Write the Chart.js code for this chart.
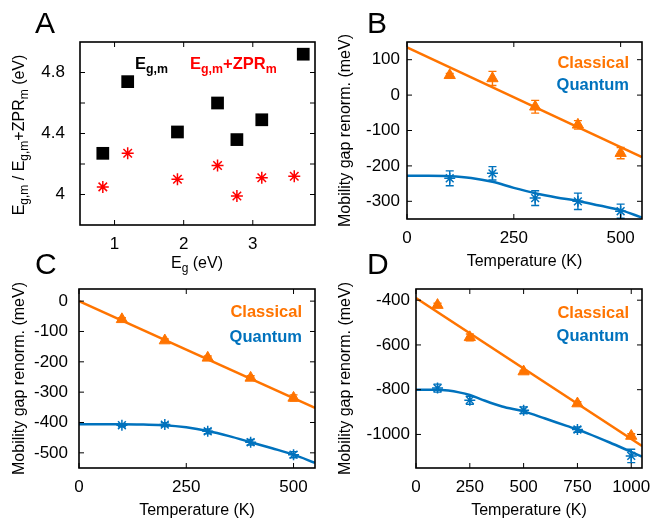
<!DOCTYPE html>
<html>
<head>
<meta charset="utf-8">
<script src="https://cdn.jsdelivr.net/npm/chart.js@4/dist/chart.umd.min.js"></script>
<style>
  body { margin: 0; background: #fff; font-family: "Liberation Sans", Arial, sans-serif; color: #000; }
  #wrap { position: relative; width: 653px; height: 523px; overflow: hidden; }
  canvas { position: absolute; }
  .lbl { position: absolute; white-space: nowrap; line-height: 1; }
  .lbl sub { line-height: 0; font-size: 0.75em; vertical-align: -0.3em; }
  .panel { font-size: 30px; }
  .key { font-size: 16.5px; font-weight: bold; transform: translate(-100%, -50%); }
  .ann { font-size: 16.5px; font-weight: bold; }
  .ttl { font-size: 16px; }
</style>
</head>
<body>
<div id="wrap">
  <canvas id="chartA" width="326" height="275" style="left:0;top:0"></canvas>
  <canvas id="chartB" width="327" height="275" style="left:326px;top:0"></canvas>
  <canvas id="chartC" width="326" height="248" style="left:0;top:275px"></canvas>
  <canvas id="chartD" width="327" height="248" style="left:326px;top:275px"></canvas>

  <div class="lbl panel" style="left:35px;top:8px">A</div>
  <div class="lbl panel" style="left:367px;top:8px">B</div>
  <div class="lbl panel" style="left:35px;top:249px">C</div>
  <div class="lbl panel" style="left:367px;top:249px">D</div>

  <div class="lbl ann" style="left:135px;top:55px">E<sub>g,m</sub></div>
  <div class="lbl ann" style="left:190px;top:55px;color:#ff0000">E<sub>g,m</sub>+ZPR<sub>m</sub></div>
  <div class="lbl ttl" style="left:19px;top:135px;transform:translate(-50%,-50%) rotate(-90deg)">E<sub>g,m</sub> / E<sub>g,m</sub>+ZPR<sub>m</sub> (eV)</div>
  <div class="lbl ttl" style="left:197px;top:263px;transform:translate(-50%,-50%)">E<sub>g</sub> (eV)</div>

  <div class="lbl key" style="left:629px;top:62px;color:#ff7400">Classical</div>
  <div class="lbl key" style="left:629px;top:84px;color:#0072bd">Quantum</div>
  <div class="lbl key" style="left:302px;top:311px;color:#ff7400">Classical</div>
  <div class="lbl key" style="left:302px;top:336px;color:#0072bd">Quantum</div>
  <div class="lbl key" style="left:629px;top:312px;color:#ff7400">Classical</div>
  <div class="lbl key" style="left:629px;top:335px;color:#0072bd">Quantum</div>
</div>
<script>
// panel A: mobility gap vs band gap (eV)
const aGap = [0.83, 1.19, 1.91, 2.49, 2.77, 3.13, 3.73];
const aMob = [4.27, 4.74, 4.41, 4.6, 4.36, 4.49, 4.92];
const aGapZpr = [0.83, 1.19, 1.91, 2.49, 2.77, 3.13, 3.6];
const aMobZpr = [4.05, 4.27, 4.1, 4.19, 3.99, 4.11, 4.12];
const aXTicks = [1, 2, 3];
const aXLabels = ["1", "2", "3"];
const aYTicks = [4, 4.2, 4.4, 4.6, 4.8];
const aYLabels = ["4", "", "4.4", "", "4.8"];

// panel B (meV vs K)
const bTemp = [100, 200, 300, 400, 500];
const bClassical = [56, 47, -33, -84, -164];
const bClassicalErr = [5, 20, 18, 12, 16];
const bQuantum = [-235, -221, -291, -300, -328];
const bQuantumErr = [21, 19, 21, 23, 20];
const bFitTemp = [0, 550];
const bClassicalFit = [135, -175];
const bCurveTemp = [0, 50, 100, 150, 200, 250, 300, 350, 400, 450, 500, 550];
const bQuantumFit = [-228, -228, -229, -234, -245, -262, -277, -289, -299, -312, -325, -346];
const bXTicks = [0, 250, 500];
const bYTicks = [-300, -200, -100, 0, 100];

// panel C
const cTemp = [100, 200, 300, 400, 500];
const cClassical = [-60, -130, -187, -253, -319];
const cClassicalErr = [5, 5, 6, 7, 10];
const cQuantum = [-409, -407, -429, -465, -506];
const cQuantumErr = [5, 6, 8, 9, 10];
const cFitTemp = [0, 550];
const cClassicalFit = [0, -352];
const cCurveTemp = [0, 50, 100, 150, 200, 250, 300, 350, 400, 450, 500, 550];
const cQuantumFit = [-406, -406, -406, -407, -409, -416, -428, -445, -465, -485, -506, -533];
const cXTicks = [0, 250, 500];
const cYTicks = [-500, -400, -300, -200, -100, 0];

// panel D
const dTemp = [100, 250, 500, 750, 1000];
const dClassical = [-422, -566, -719, -862, -1007];
const dClassicalErr = [8, 15, 5, 8, 10];
const dQuantum = [-793, -847, -892, -978, -1096];
const dQuantumErr = [18, 18, 15, 12, 30];
const dFitTemp = [0, 1050];
const dClassicalFit = [-390, -1052];
const dCurveTemp = [0, 100, 150, 200, 250, 300, 400, 500, 600, 700, 750, 800, 900, 1000, 1050];
const dQuantumFit = [-800, -800, -804, -812, -824, -842, -875, -897, -929, -962, -978, -996, -1036, -1078, -1099];
const dXTicks = [0, 250, 500, 750, 1000];
const dYTicks = [-1000, -800, -600, -400];

const orange = "#ff7400";
const blue = "#0072bd";
const yTitle = "Mobility gap renorm. (meV)";
const xTitle = "Temperature (K)";

function pts(xs, ys) {
  return xs.map((x, i) => ({ x: x, y: ys[i] }));
}

// error bars, drawn from the dataset's "errors" list
const errorBars = {
  id: "errorBars",
  afterDatasetsDraw(chart) {
    const ctx = chart.ctx;
    const ys = chart.scales.y;
    chart.data.datasets.forEach((ds, i) => {
      if (!ds.errors) return;
      const meta = chart.getDatasetMeta(i);
      ctx.save();
      ctx.strokeStyle = ds.borderColor;
      ctx.lineWidth = 1.4;
      meta.data.forEach((pt, j) => {
        const top = ys.getPixelForValue(ds.data[j].y + ds.errors[j]);
        const bot = ys.getPixelForValue(ds.data[j].y - ds.errors[j]);
        ctx.beginPath();
        ctx.moveTo(pt.x, top); ctx.lineTo(pt.x, bot);
        ctx.moveTo(pt.x - 4, top); ctx.lineTo(pt.x + 4, top);
        ctx.moveTo(pt.x - 4, bot); ctx.lineTo(pt.x + 4, bot);
        ctx.stroke();
      });
      ctx.restore();
    });
  },
};

// gnuplot style box with inward ticks on all four sides
const frame = {
  id: "frame",
  afterDraw(chart) {
    const { ctx, chartArea: a, scales } = chart;
    ctx.save();
    ctx.strokeStyle = "#000";
    ctx.lineWidth = 1;
    ctx.beginPath();
    scales.x.ticks.forEach((t) => {
      const px = scales.x.getPixelForValue(t.value);
      ctx.moveTo(px, a.bottom); ctx.lineTo(px, a.bottom - 5);
      ctx.moveTo(px, a.top); ctx.lineTo(px, a.top + 5);
    });
    scales.y.ticks.forEach((t) => {
      const py = scales.y.getPixelForValue(t.value);
      ctx.moveTo(a.left, py); ctx.lineTo(a.left + 5, py);
      ctx.moveTo(a.right, py); ctx.lineTo(a.right - 5, py);
    });
    ctx.stroke();
    ctx.lineWidth = 1.6;
    ctx.strokeRect(a.left, a.top, a.right - a.left, a.bottom - a.top);
    ctx.restore();
  },
};

function axis(min, max, ticks, labels, size, pad, title, titlePad, isX) {
  return {
    type: "linear",
    min: min,
    max: max,
    afterBuildTicks: (s) => {
      s.ticks = ticks.map((v) => ({ value: v }));
    },
    afterFit: (s) => {
      if (isX) s.height = size;
      else s.width = size;
      s.paddingLeft = 0; s.paddingRight = 0; s.paddingTop = 0; s.paddingBottom = 0;
    },
    grid: { display: false, drawTicks: false },
    border: { display: false },
    ticks: {
      autoSkip: false,
      maxRotation: 0,
      padding: pad,
      color: "#000",
      font: { size: 17 },
      callback: (v, i) => labels[i],
    },
    title: title
      ? { display: true, text: title, color: "#000", font: { size: 16 }, padding: titlePad }
      : { display: false },
  };
}

function makeChart(id, datasets, scales, padding) {
  return new Chart(document.getElementById(id), {
    type: "scatter",
    data: { datasets: datasets },
    options: {
      responsive: false,
      animation: false,
      layout: { padding: padding },
      plugins: { legend: { display: false }, tooltip: { enabled: false } },
      scales: scales,
    },
    plugins: [errorBars, frame],
  });
}

function tempDatasets(temp, cl, clErr, qu, quErr, fitT, clFit, curveT, quFit) {
  return [
    { data: pts(fitT, clFit), showLine: true, borderColor: orange, borderWidth: 2.5, pointRadius: 0 },
    {
      data: pts(curveT, quFit), showLine: true, borderColor: blue, borderWidth: 2.5, pointRadius: 0,
      cubicInterpolationMode: "monotone",
    },
    {
      data: pts(temp, cl), errors: clErr, pointStyle: "triangle", pointRadius: 6.5,
      backgroundColor: orange, borderColor: orange, borderWidth: 1,
    },
    {
      data: pts(temp, qu), errors: quErr, pointStyle: "star", pointRadius: 5.5,
      backgroundColor: blue, borderColor: blue, borderWidth: 1.5,
    },
  ];
}

// A
makeChart(
  "chartA",
  [
    { data: pts(aGap, aMob), pointStyle: "rect", pointRadius: 9, backgroundColor: "#000", borderColor: "#000", borderWidth: 0 },
    { data: pts(aGapZpr, aMobZpr), pointStyle: "star", pointRadius: 6, borderColor: "#ff0000", borderWidth: 1.5 },
  ],
  {
    x: axis(0.5, 3.9, aXTicks, aXLabels, 50, 9, null, 0, true),
    y: axis(3.8, 5.0, aYTicks, aYLabels, 80, 15, null, 0, false),
  },
  { top: 42, right: 11, left: 0, bottom: 0 }
);

// B
makeChart(
  "chartB",
  tempDatasets(bTemp, bClassical, bClassicalErr, bQuantum, bQuantumErr, bFitTemp, bClassicalFit, bCurveTemp, bQuantumFit),
  {
    x: axis(0, 550, bXTicks, bXTicks.map(String), 56, 9, xTitle, { top: 0, bottom: 4 }, true),
    y: axis(-350, 150, bYTicks, bYTicks.map(String), 81, 7, yTitle, { top: 10, bottom: 0 }, false),
  },
  { top: 42, right: 11, left: 0, bottom: 0 }
);

// C
makeChart(
  "chartC",
  tempDatasets(cTemp, cClassical, cClassicalErr, cQuantum, cQuantumErr, cFitTemp, cClassicalFit, cCurveTemp, cQuantumFit),
  {
    x: axis(0, 550, cXTicks, cXTicks.map(String), 55, 9, xTitle, { top: 0, bottom: 3 }, true),
    y: axis(-550, 40, cYTicks, cYTicks.map(String), 79, 11, yTitle, { top: 10, bottom: 0 }, false),
  },
  { top: 14, right: 11, left: 0, bottom: 0 }
);

// D
makeChart(
  "chartD",
  tempDatasets(dTemp, dClassical, dClassicalErr, dQuantum, dQuantumErr, dFitTemp, dClassicalFit, dCurveTemp, dQuantumFit),
  {
    x: axis(0, 1050, dXTicks, dXTicks.map(String), 55, 9, xTitle, { top: 0, bottom: 3 }, true),
    y: axis(-1150, -350, dYTicks, dYTicks.map(String), 90, 6, yTitle, { top: 10, bottom: 0 }, false),
  },
  { top: 14, right: 11, left: 0, bottom: 0 }
);
</script>
</body>
</html>
